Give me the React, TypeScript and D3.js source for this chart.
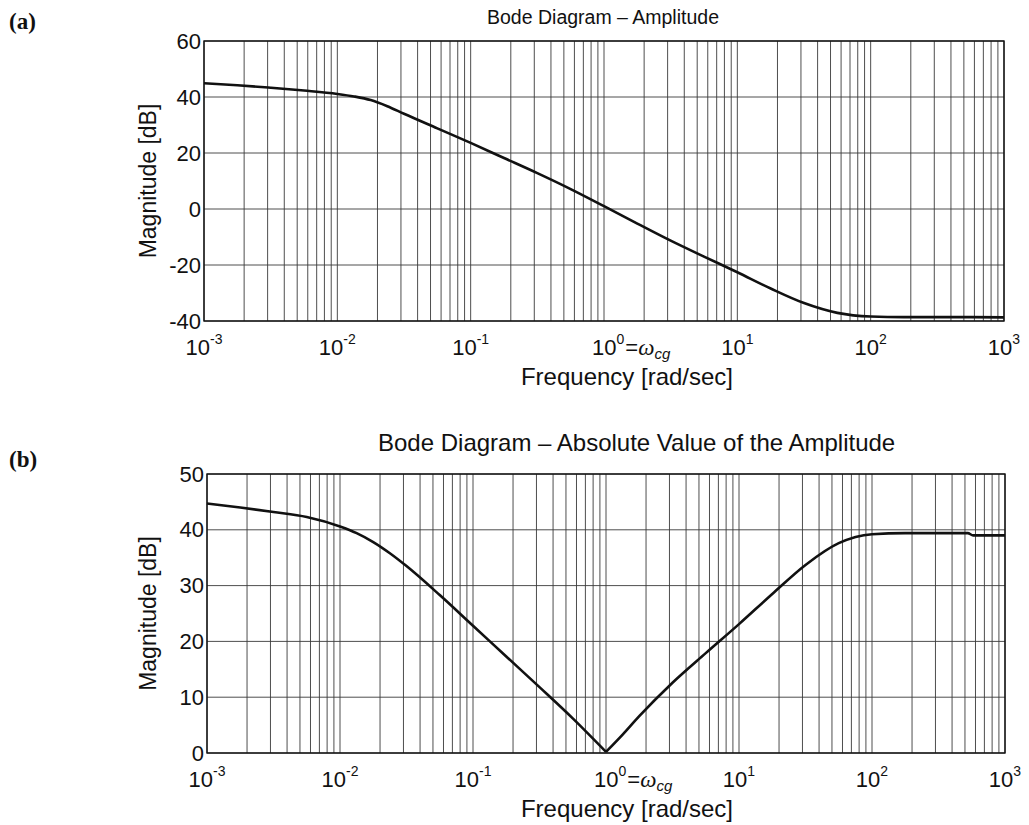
import React from 'react';
import * as d3 from 'd3';

// Frequency grid (log10 of rad/sec) and open-loop amplitude in dB
const ampExponents = [-3, -2.75, -2.5, -2.25, -2, -1.875, -1.75, -1.625, -1.5, -1.25, -1, -0.75, -0.5, -0.25, 0, 0.25, 0.5, 0.75, 1, 1.25, 1.5, 1.75, 2, 2.25, 2.5, 2.75, 3];
const ampDb = [44.9, 44.2, 43.3, 42.3, 41.1, 40.2, 38.9, 36.7, 34.0, 28.8, 23.6, 18.2, 12.8, 7.1, 1.0, -5.2, -11.3, -17.0, -22.6, -28.4, -33.6, -37.1, -38.4, -38.6, -38.6, -38.6, -38.7];

// Absolute value of the amplitude in dB
const absExponents = [-3, -2.75, -2.5, -2.25, -2, -1.875, -1.75, -1.625, -1.5, -1.25, -1, -0.75, -0.5, -0.25, 0, 0.125, 0.25, 0.5, 0.75, 1, 1.25, 1.5, 1.75, 2, 2.25, 2.5, 2.72, 2.76, 3];
const absDb = [44.7, 44.0, 43.2, 42.3, 40.6, 39.4, 37.8, 35.8, 33.5, 28.3, 22.8, 17.3, 11.8, 6.2, 0.2, 3.3, 6.6, 12.6, 17.9, 23.1, 28.5, 33.7, 37.6, 39.2, 39.4, 39.4, 39.4, 39.0, 39.0];

const ampTicks = [-40, -20, 0, 20, 40, 60];
const absTicks = [0, 10, 20, 30, 40, 50];
const decadeExponents = [-3, -2, -1, 0, 1, 2, 3];
const gridMultipliers = [1, 2, 3, 4, 5, 6, 7, 8, 9];

const SANS = '"Liberation Sans", Arial, sans-serif';
const SERIF = '"Liberation Serif", "Times New Roman", serif';

type PanelProps = {
  left: number; right: number; top: number; bottom: number;
  yDomain: [number, number];
  yTicks: number[];
  exps: number[];
  values: number[];
  splitAtMin: boolean;
  title: string;
  titleSize: number;
  titleX: number;
  titleAnchor: 'start' | 'middle';
  titleY: number;
  tag: string;
  tagY: number;
  xLabelY: number;
};

function DecadeLabel({ x, y, exp }: { x: number; y: number; exp: number }) {
  if (exp === 0) {
    return (
      <text x={x - 12} y={y} fontFamily={SANS} fontSize={22} fill="#111">
        10
        <tspan dy={-11} fontSize={14}>0</tspan>
        <tspan dx={1} dy={11} fontSize={22}>=</tspan>
        <tspan fontFamily={SERIF} fontStyle="italic" fontSize={23}>ω</tspan>
        <tspan dy={4} fontStyle="italic" fontSize={15}>cg</tspan>
      </text>
    );
  }
  const sup = exp < 0 ? `-${-exp}` : `${exp}`;
  return (
    <text x={x} y={y} textAnchor="middle" fontFamily={SANS} fontSize={22} fill="#111">
      10
      <tspan dy={-11} fontSize={14}>{sup}</tspan>
    </text>
  );
}

function Panel(p: PanelProps) {
  const x = d3.scaleLog().domain([1e-3, 1e3]).range([p.left, p.right]);
  const y = d3.scaleLinear().domain(p.yDomain).range([p.bottom, p.top]);

  const gridFreqs: number[] = [];
  decadeExponents.slice(0, -1).forEach((e) => {
    gridMultipliers.forEach((m) => gridFreqs.push(m * Math.pow(10, e)));
  });
  gridFreqs.push(1e3);

  const pts = p.exps.map((e, i) => [Math.pow(10, e), p.values[i]] as [number, number]);
  const line = d3.line<[number, number]>()
    .x((d) => x(d[0]))
    .y((d) => y(d[1]))
    .curve(d3.curveMonotoneX);

  let segments: [number, number][][] = [pts];
  if (p.splitAtMin) {
    const iMin = d3.minIndex(p.values);
    segments = [pts.slice(0, iMin + 1), pts.slice(iMin)];
  }

  const cy = (p.top + p.bottom) / 2;

  return (
    <g>
      <text x={9} y={p.tagY} fontFamily={SERIF} fontWeight="bold" fontSize={23} fill="#111">{p.tag}</text>
      <text x={p.titleX} y={p.titleY} textAnchor={p.titleAnchor} fontFamily={SANS} fontSize={p.titleSize} fill="#111">{p.title}</text>
      {gridFreqs.map((f, i) => (
        <line key={`v${i}`} x1={x(f)} x2={x(f)} y1={p.top} y2={p.bottom} stroke="#3a3a3a" strokeWidth={0.9} />
      ))}
      {p.yTicks.map((t) => (
        <line key={`h${t}`} x1={p.left} x2={p.right} y1={y(t)} y2={y(t)} stroke="#3a3a3a" strokeWidth={0.9} />
      ))}
      <rect x={p.left} y={p.top} width={p.right - p.left} height={p.bottom - p.top} fill="none" stroke="#111" strokeWidth={1.4} />
      {segments.map((s, i) => (
        <path key={`c${i}`} d={line(s) ?? ''} fill="none" stroke="#111" strokeWidth={2.6} strokeLinejoin="round" />
      ))}
      {p.yTicks.map((t) => (
        <text key={`yl${t}`} x={p.left - 3} y={y(t) + 7.5} textAnchor="end" fontFamily={SANS} fontSize={22} fill="#111">{t}</text>
      ))}
      {decadeExponents.map((e) => (
        <DecadeLabel key={`xl${e}`} x={x(Math.pow(10, e))} y={p.bottom + 34} exp={e} />
      ))}
      <text x={627} y={p.xLabelY} textAnchor="middle" fontFamily={SANS} fontSize={24} fill="#111">Frequency [rad/sec]</text>
      <text transform={`translate(156,${cy}) rotate(-90)`} textAnchor="middle" fontFamily={SANS} fontSize={23} fill="#111">Magnitude [dB]</text>
    </g>
  );
}

export default function App() {
  return (
    <svg width={1029} height={825} style={{ position: 'absolute', left: 0, top: 0, background: '#fff' }}>
      <Panel
        left={204} right={1004} top={41} bottom={321}
        yDomain={[-40, 60]} yTicks={ampTicks}
        exps={ampExponents} values={ampDb} splitAtMin={false}
        title="Bode Diagram – Amplitude" titleSize={19.5} titleX={603} titleAnchor="middle" titleY={24}
        tag="(a)" tagY={29} xLabelY={385}
      />
      <Panel
        left={207} right={1005} top={474} bottom={753}
        yDomain={[0, 50]} yTicks={absTicks}
        exps={absExponents} values={absDb} splitAtMin={true}
        title="Bode Diagram – Absolute Value of the Amplitude" titleSize={24} titleX={378} titleAnchor="start" titleY={451}
        tag="(b)" tagY={467} xLabelY={817}
      />
    </svg>
  );
}
